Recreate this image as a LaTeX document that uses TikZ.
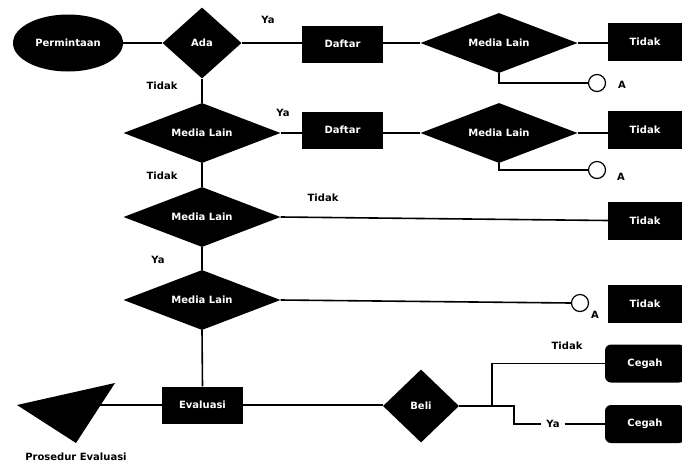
\documentclass[tikz,border=0pt]{standalone}
\usepackage{fontspec}
\setmainfont{DejaVu Sans}
\usetikzlibrary{shapes.geometric}
\begin{document}
\begin{tikzpicture}[x=1pt,y=-1pt,
  every node/.style={font=\fontsize{10}{12}\selectfont\bfseries},
  conn/.style={draw=black,line width=1.6pt},
  boxw/.style={rectangle,fill=black,text=white,minimum width=81pt,minimum height=37pt,inner sep=0pt},
  boxr/.style={rectangle,fill=black,text=white,minimum width=74pt,minimum height=38pt,inner sep=0pt},
  boxc/.style={rectangle,rounded corners=6pt,fill=black,text=white,minimum width=80pt,minimum height=38pt,inner sep=0pt},
  dia/.style={diamond,fill=black,text=white,inner sep=0pt,aspect=2.6,minimum width=157pt,minimum height=60pt},
  circ/.style={circle,draw=black,line width=1.2pt,fill=white,minimum size=17pt,inner sep=0pt},
  lbl/.style={text=black,inner sep=0pt}]
\useasboundingbox (0,0) rectangle (682,464);
% nodes
\node[ellipse,fill=black,text=white,minimum width=110pt,minimum height=57pt,inner sep=0pt] (perm) at (68,43) {Permintaan};
\node[diamond,fill=black,text=white,inner sep=0pt,aspect=1.1,minimum width=79pt,minimum height=71pt] (ada) at (202,43) {Ada};
\node[boxw] (daf1) at (342.5,44) {Daftar};
\node[dia] (ml1r) at (499,43) {Media Lain};
\node[boxr] (tid1) at (645,42) {Tidak};
\node[circ] (c1) at (597,83) {};
\node[lbl] (a1) at (622,85) {A};

\node[dia] (ml2) at (202,133) {Media Lain};
\node[boxw] (daf2) at (342.5,130) {Daftar};
\node[dia] (ml2r) at (499,133) {Media Lain};
\node[boxr] (tid2) at (645,130) {Tidak};
\node[circ] (c2) at (597,170) {};
\node[lbl] (a2) at (621,177) {A};

\node[dia] (ml3) at (202,217) {Media Lain};
\node[boxr] (tid3) at (645,220.5) {Tidak};

\node[dia] (ml4) at (202,300) {Media Lain};
\node[circ] (c3) at (580,303) {};
\node[lbl] (a3) at (595,315) {A};
\node[boxr] (tid4) at (645,304) {Tidak};

\node[boxw] (eval) at (202.5,405) {Evaluasi};
\node[diamond,fill=black,text=white,inner sep=0pt,aspect=1,minimum width=76pt,minimum height=73pt] (beli) at (421,406) {Beli};
\node[boxc] (ceg1) at (645,363.5) {Cegah};
\node[boxc] (ceg2) at (645,424) {Cegah};

% triangle
\fill[black] (17,405) -- (115,383) -- (76,443) -- cycle;
\coordinate (tri) at (100,405);
\node[lbl] (pe) at (76,457) {Prosedur Evaluasi};

% labels
\node[lbl] (l1) at (268,20) {Ya};
\node[lbl] (l2) at (162,86) {Tidak};
\node[lbl] (l3) at (283,113) {Ya};
\node[lbl] (l4) at (162,176) {Tidak};
\node[lbl] (l5) at (323,198) {Tidak};
\node[lbl] (l6) at (158,260) {Ya};
\node[lbl] (l7) at (567,346) {Tidak};
\node[lbl,inner xsep=5pt] (ya5) at (553,424) {Ya};

% connectors
\draw[conn] (perm.east) -- (ada.west);
\draw[conn] (ada.east) -- (daf1.west |- ada.east);
\draw[conn] (daf1.east |- ml1r.west) -- (ml1r.west);
\draw[conn] (ml1r.east) -- (tid1.west |- ml1r.east);
\draw[conn] (ml1r.south) |- (c1.west);

\draw[conn] (ada.south) -- (ml2.north);
\draw[conn] (ml2.east) -- (daf2.west |- ml2.east);
\draw[conn] (daf2.east |- ml2r.west) -- (ml2r.west);
\draw[conn] (ml2r.east) -- (tid2.west |- ml2r.east);
\draw[conn] (ml2r.south) |- (c2.west);

\draw[conn] (ml2.south) -- (ml3.north);
\draw[conn] (ml3.east) -- (tid3.west);
\draw[conn] (ml3.south) -- (ml4.north);
\draw[conn] (ml4.east) -- (c3.west);
\draw[conn] (ml4.south) -- (eval.north);

\draw[conn] (eval.west) -- (tri);
\draw[conn] (eval.east) -- (beli.west |- eval.east);
\coordinate (j) at (492,406);
\draw[conn] (beli.east) -- (j) |- (ceg1.west);
\draw[conn] (j) -- (514,406) |- (ya5.west);
\draw[conn] (ya5.east) -- (ceg2.west);
\end{tikzpicture}
\end{document}
